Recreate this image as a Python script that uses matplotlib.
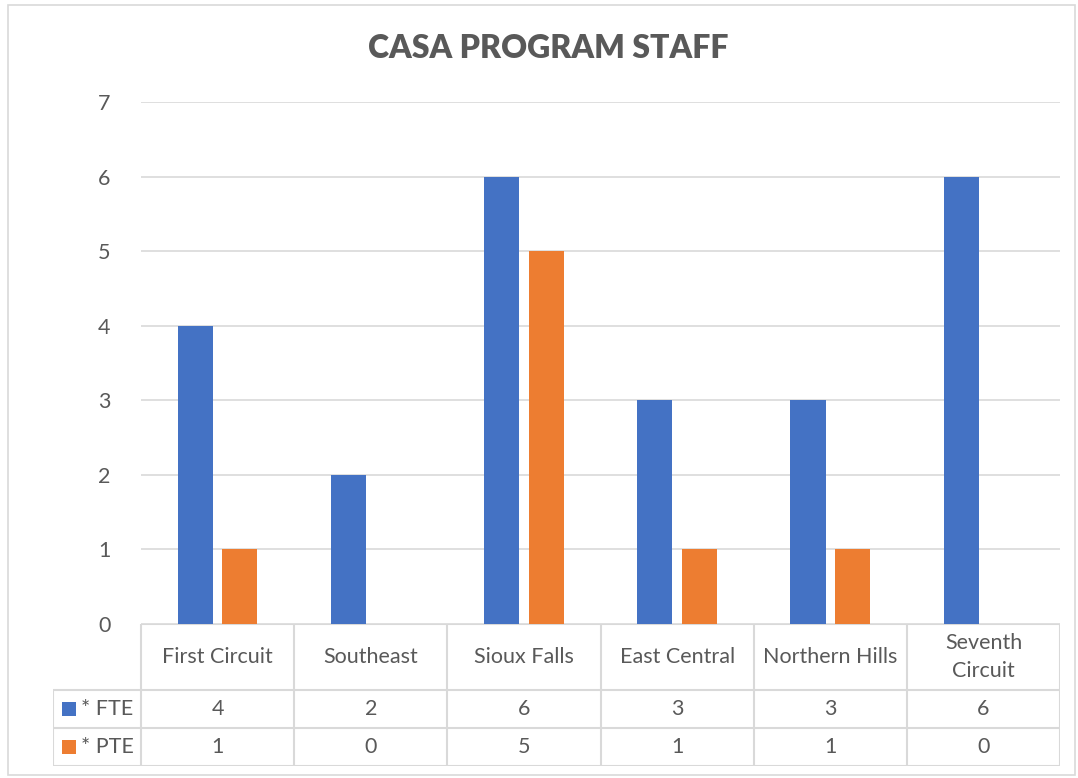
import matplotlib
matplotlib.use("Agg")
import matplotlib.pyplot as plt
from matplotlib.patches import Rectangle
import numpy as np

categories = ["First Circuit", "Southeast", "Sioux Falls", "East Central", "Northern Hills", "Seventh\nCircuit"]
fte = [4, 2, 6, 3, 3, 6]
pte = [1, 0, 5, 1, 1, 0]
series_names = ["* FTE", "* PTE"]
colors = ["#4472C4", "#ED7D31"]

plt.rcParams['font.family'] = ['Lato', 'DejaVu Sans']
txt = "#595959"
grid = "#d9d9d9"

W, H = 1078, 778
fig = plt.figure(figsize=(W / 100, H / 100), dpi=100)

# chart border
fig.patches.append(Rectangle((8 / W, 3 / H), 1067 / W, 770 / H, transform=fig.transFigure,
                             fill=False, edgecolor=grid, lw=1.2))

left, right, top, bot = 141, 1060, 102, 624
ax = fig.add_axes([left / W, 1 - bot / H, (right - left) / W, (bot - top) / H])

x = np.arange(len(categories))
bw = 0.23
off = 0.145
ax.bar(x - off, fte, bw, color=colors[0], zorder=3)
ax.bar(x + off, pte, bw, color=colors[1], zorder=3)

ax.set_xlim(-0.5, len(categories) - 0.5)
ax.set_ylim(0, 7)
ax.set_yticks(range(0, 8))
ax.yaxis.grid(True, color=grid, lw=1.2, zorder=0)
ax.tick_params(axis='y', length=0, pad=22, labelsize=15.5, labelcolor=txt)
ax.set_xticks([])
for s in ax.spines.values():
    s.set_visible(False)

fig.text(548 / W, 1 - 48 / H, "CASA PROGRAM STAFF", ha='center', va='center',
         fontsize=23, fontweight='heavy', color=txt)

# data table below the plot
tleft = 53
cw = (right - left) / len(categories)
tax = fig.add_axes([tleft / W, 1 - 766 / H, (right - tleft) / W, (766 - bot) / H])
tax.set_xlim(-0.5 - (left - tleft) / cw, len(categories) - 0.5)
tax.set_ylim(766, bot)
tax.axis('off')
x0 = -0.5 - (left - tleft) / cw
rows = [624, 690, 728, 766]
lk = dict(color=grid, lw=1.5, solid_capstyle='butt')
# horizontal lines
tax.plot([-0.5, len(categories) - 0.5], [rows[0], rows[0]], **lk)
for r in rows[1:]:
    tax.plot([x0, len(categories) - 0.5], [r, r], **lk)
# vertical lines
tax.plot([x0, x0], [rows[1], rows[3]], **lk)
for i in range(len(categories) + 1):
    tax.plot([i - 0.5, i - 0.5], [rows[0], rows[3]], **lk)

for i, c in enumerate(categories):
    tax.text(i, (rows[0] + rows[1]) / 2, c, ha='center', va='center', fontsize=15.5,
             color=txt, linespacing=1.55)
    tax.text(i, (rows[1] + rows[2]) / 2, str(fte[i]), ha='center', va='center', fontsize=15.5, color=txt)
    tax.text(i, (rows[2] + rows[3]) / 2, str(pte[i]), ha='center', va='center', fontsize=15.5, color=txt)

for j, (name, col) in enumerate(zip(series_names, colors)):
    yc = (rows[j + 1] + rows[j + 2]) / 2
    kx = x0 + 9 / cw
    tax.add_patch(Rectangle((kx, yc - 7), 14 / cw, 14, facecolor=col, edgecolor='none'))
    tax.text(x0 + 28 / cw, yc, name, ha='left', va='center', fontsize=15.5, color=txt)

fig.savefig("out.png", dpi=100)
